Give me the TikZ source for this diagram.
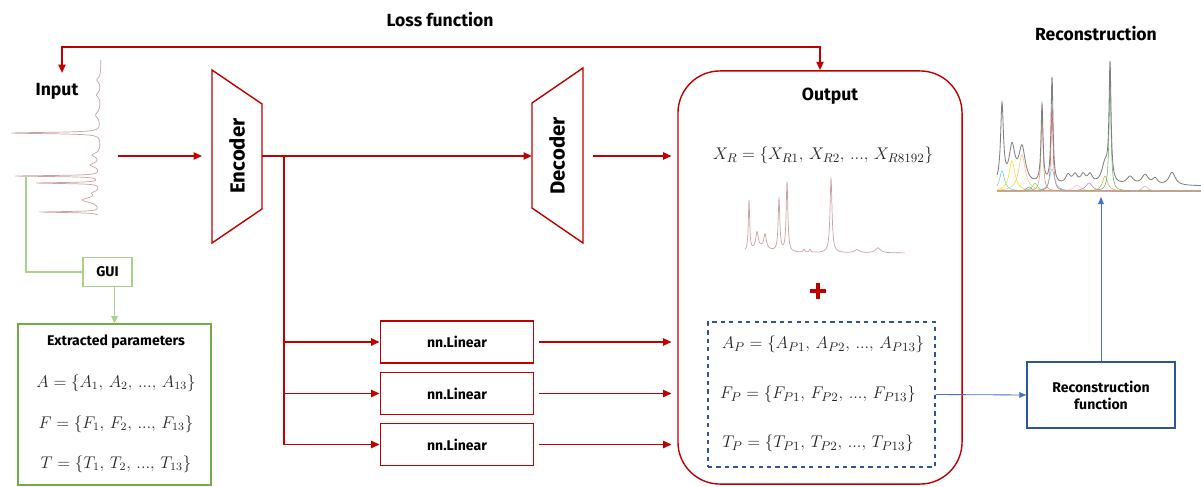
\documentclass[tikz,border=0pt]{standalone}
\usepackage{fontspec}
\usepackage{amsmath}
\usepackage{tikz}
\usetikzlibrary{arrows.meta}
\setsansfont{Fira Sans}

\definecolor{lossred}{HTML}{C00000}
\definecolor{specpink}{HTML}{C9A3A3}
\definecolor{guigreen}{HTML}{70AD47}
\definecolor{lightgreen}{HTML}{A9D18E}
\definecolor{arrblue}{HTML}{4472C4}
\definecolor{darkblue}{HTML}{2F5597}

\tikzset{
  lbl/.style={font=\sffamily\bfseries\fontsize{12.5}{15}\selectfont},
  smlbl/.style={font=\sffamily\bfseries\fontsize{10}{12}\selectfont},
  eq/.style={font=\fontsize{12}{14}\selectfont, text=black!85},
  redln/.style={draw=lossred, line width=1.4pt},
  redarr/.style={redln, -{Triangle[length=6pt,width=5pt]}},
  linbox/.style={draw=lossred, line width=1.2pt, minimum width=3.825cm, minimum height=1.05cm, smlbl},
  greenln/.style={draw=lightgreen, line width=0.8pt},
  bluearr/.style={draw=arrblue, line width=0.6pt, -{Triangle[length=5pt,width=4pt]}},
  spec/.style={draw=specpink, line width=0.5pt},
}

\begin{document}
\begin{tikzpicture}[x=0.025cm, y=-0.025cm,
    declare function={pk(\xa,\pos,\hgt,\wid)=\hgt*\wid*\wid/((\xa-\pos)^2+\wid*\wid);}]
\useasboundingbox (0,0) rectangle (1201,486);

% labels
\node[lbl] (loss) at (440,20) {Loss function};
\node[lbl] (inlbl) at (57,91) {Input};
\node[lbl] (reclbl) at (1096,34) {Reconstruction};

% input spectrum, turned on its side
\begin{scope}[shift={(101,60)}, x={(0cm,-0.25cm)}, y={(-0.025cm,0cm)}]
  \draw[spec] plot[domain=0:15.5, samples=621, smooth] (\x, {pk(\x,7.3,89,0.08)+pk(\x,11.6,84,0.06)+pk(\x,12.3,63,0.06)+pk(\x,15.2,58,0.06)+pk(\x,14.0,18,0.3)+pk(\x,9.5,8,0.25)+pk(\x,10.5,10,0.25)+pk(\x,13.3,6,0.2)+pk(\x,2,4,0.3)+pk(\x,3.5,4,0.3)+pk(\x,5.5,5,0.4)});
\end{scope}
\coordinate (inTop) at (62,73);
\coordinate (inR) at (118,156);
\coordinate (inB) at (26,177);

% encoder / decoder
\draw[lossred, line width=1pt] (212,70) -- (262,104) -- (262,209) -- (212,243) -- cycle;
\node[lbl, rotate=90, font=\sffamily\bfseries\fontsize{14.5}{16}\selectfont] (enc) at (237,156) {Encoder};
\draw[lossred, line width=1pt] (532,103) -- (583,68) -- (583,243) -- (532,208) -- cycle;
\node[lbl, rotate=90, font=\sffamily\bfseries\fontsize{14.5}{16}\selectfont] (dec) at (557,156) {Decoder};
\coordinate (encW) at (212,156);
\coordinate (encE) at (262,156);
\coordinate (decW) at (532,156);
\coordinate (decE) at (583,156);
\coordinate (br) at (284,156);

% output
\node[draw=lossred, line width=1pt, rounded corners=1.05cm, minimum width=7.1cm, minimum height=10.325cm] (outbox) at (820,277.5) {};
\node[lbl] (outlbl) at (830,96) {Output};
\node[eq, font=\fontsize{12.5}{14}\selectfont] (xr) at (823,155) {$X_R=\{X_{R1},\, X_{R2},\, ...,\, X_{R8192}\}$};
\begin{scope}[shift={(745,253)}, x=0.25cm, y=0.025cm]
  \draw[spec] plot[domain=0:16, samples=641, smooth] (\x, {pk(\x,0.4,50,0.08)+pk(\x,1.2,16,0.15)+pk(\x,2.0,14,0.15)+pk(\x,3.4,52,0.1)+pk(\x,4.2,70,0.1)+pk(\x,8.6,74,0.12)+pk(\x,5.9,3,0.1)+pk(\x,6.5,3,0.1)+pk(\x,11.2,3,0.3)+pk(\x,13.3,5,0.3)+pk(\x,1.6,5,1.0)});
\end{scope}
\draw[lossred, line width=3pt] (810,291) -- (826,291) (818,283) -- (818,299);
\node[draw=darkblue, dashed, line width=0.9pt, minimum width=5.675cm, minimum height=3.625cm] (params) at (821.5,394.5) {};
\node[eq, font=\fontsize{12.5}{14}\selectfont] (ap) at (823,344) {$A_P=\{A_{P1},\, A_{P2},\, ...,\, A_{P13}\}$};
\node[eq, font=\fontsize{12.5}{14}\selectfont] (fp) at (818,394) {$F_P=\{F_{P1},\, F_{P2},\, ...,\, F_{P13}\}$};
\node[eq, font=\fontsize{12.5}{14}\selectfont] (tp) at (818,443) {$T_P=\{T_{P1},\, T_{P2},\, ...,\, T_{P13}\}$};

% linear heads
\node[linbox] (lin1) at (457,342) {nn.Linear};
\node[linbox] (lin2) at (457,393.5) {nn.Linear};
\node[linbox] (lin3) at (457,444.5) {nn.Linear};

% GUI and extracted parameters
\node[draw=lightgreen, line width=0.8pt, minimum width=1.225cm, minimum height=0.725cm, smlbl] (gui) at (107.5,272) {GUI};
\node[draw=guigreen, line width=1pt, minimum width=4.825cm, minimum height=4.025cm] (extr) at (114.5,404.5) {};
\node[smlbl] (extitle) at (116,342) {Extracted parameters};
\node[eq] (fa) at (116,383) {$A=\{A_1,\, A_2,\, ...,\, A_{13}\}$};
\node[eq] (ff) at (116,424) {$F=\{F_1,\, F_2,\, ...,\, F_{13}\}$};
\node[eq] (ft) at (116,464) {$T=\{T_1,\, T_2,\, ...,\, T_{13}\}$};

% reconstruction
\node[draw=darkblue, line width=1pt, minimum width=3.7cm, minimum height=1.65cm, smlbl, align=center] (recfun) at (1101,395) {Reconstruction\\function};
\begin{scope}[shift={(997,191)}, x=0.25cm, y=0.025cm]
  \foreach \c/\h/\w/\col in {0.5/20/0.3/cyan!60, 1.5/30/0.35/yellow!80!orange, 2.5/36/0.4/orange!50, 3.2/4/0.3/blue!50, 3.8/8/0.3/green!70, 4.5/78/0.12/brown!60!red!60, 5.5/83/0.12/red!70, 5.5/22/0.3/cyan!60, 8.0/6/0.4/pink, 9.2/8/0.4/violet!50, 10.8/15/0.3/olive!60, 11.3/110/0.12/green!50!black!60, 14.8/5/0.3/red!40}
    \draw[\col, line width=0.4pt] plot[domain=0:20.4, samples=409, smooth] (\x, {pk(\x,\c,\h,\w)});
  \draw[gray, line width=0.6pt] plot[domain=0:20.4, samples=817, smooth] (\x, {5+pk(\x,0.5,78,0.17)+pk(\x,1.5,36,0.35)+pk(\x,2.5,36,0.4)+pk(\x,4.5,78,0.12)+pk(\x,5.5,106,0.12)+pk(\x,7.1,9,0.3)+pk(\x,7.8,9,0.3)+pk(\x,8.6,9,0.3)+pk(\x,9.3,9,0.3)+pk(\x,10.8,20,0.4)+pk(\x,11.3,116,0.12)+pk(\x,13.3,8,0.4)+pk(\x,14.8,10,0.4)+pk(\x,15.8,6,0.3)+pk(\x,17.5,13,0.4)});
\end{scope}
\coordinate (recspec) at (1101,197);

% connectors
\coordinate (lossR) at (820,47);
\draw[redln, {Triangle[length=6pt,width=5pt]}-{Triangle[length=6pt,width=5pt]}] (inTop) |- (lossR) -- (outbox.north);
\draw[redarr, shorten >=7pt] (inR) -- (encW);
\draw[redarr] (encE) -- (decW);
\draw[redarr, shorten <=7pt, shorten >=4pt] (decE) -- (decE -| outbox.west);
\draw[redln, line width=1.2pt] (br) -- (br |- lin3.west);
\draw[redarr] (br |- lin1.west) -- (lin1.west);
\draw[redarr] (br |- lin2.west) -- (lin2.west);
\draw[redarr] (br |- lin3.west) -- (lin3.west);
\draw[redarr, shorten <=3pt, shorten >=4pt] (lin1.east) -- (lin1.east -| outbox.west);
\draw[redarr, shorten <=3pt, shorten >=4pt] (lin2.east) -- (lin2.east -| outbox.west);
\draw[redarr, shorten <=3pt, shorten >=4pt] (lin3.east) -- (lin3.east -| outbox.west);
\draw[greenln] (inB) |- (gui.west);
\draw[greenln, -{Triangle[length=5pt,width=4.5pt]}] (gui.south -| extr.north) -- (extr.north);
\draw[bluearr] (params.east) -- (recfun.west);
\draw[bluearr] (recfun.north) -- (recspec);
\end{tikzpicture}
\end{document}
